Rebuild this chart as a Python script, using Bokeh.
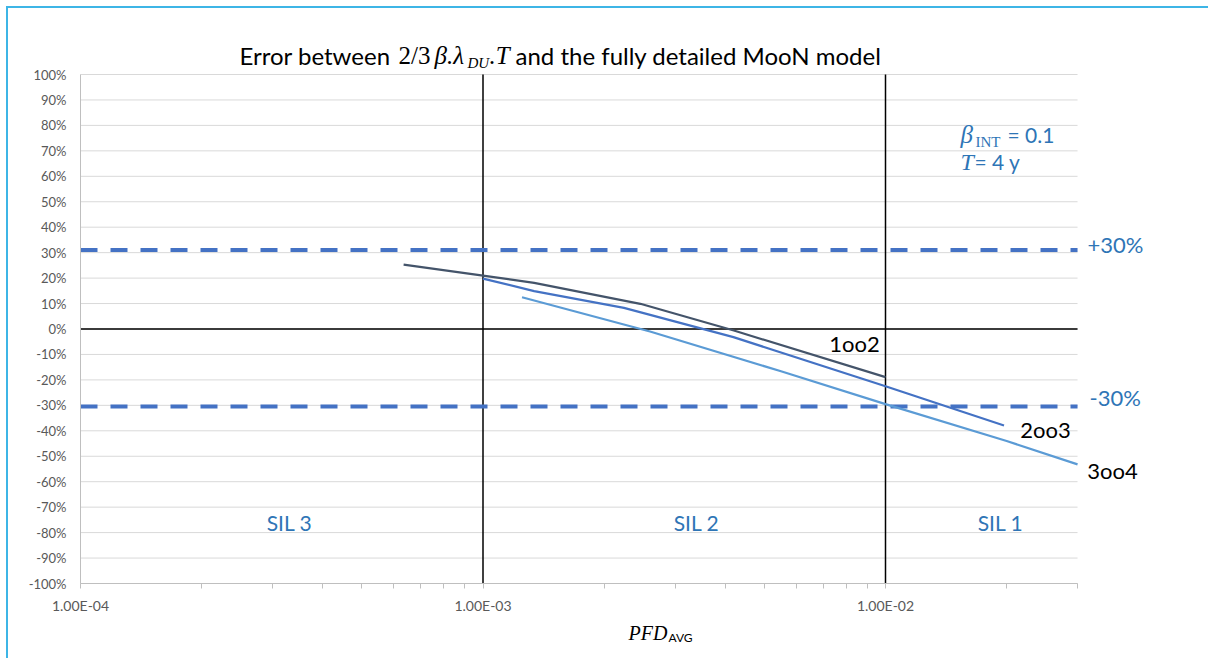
import math
from bokeh.plotting import figure
from bokeh.models import FixedTicker, Label, PrintfTickFormatter
from bokeh.embed import file_html
from bokeh.resources import INLINE

# ---- data ----
pfd_1oo2 = [6.35e-4, 1.0e-3, 1.34e-3, 2.46e-3, 4.2e-3, 1.0e-2]
err_1oo2 = [25.3, 21.0, 18.1, 9.9, -0.6, -18.9]

pfd_2oo3 = [1.0e-3, 1.34e-3, 2.24e-3, 4.19e-3, 1.0e-2, 1.97e-2]
err_2oo3 = [19.8, 14.9, 8.3, -3.2, -22.5, -37.9]

pfd_3oo4 = [1.25e-3, 2.6e-3, 5.5e-3, 1.0e-2, 2.0e-2, 3.0e-2]
err_3oo4 = [12.5, -1.0, -16.6, -29.5, -44.0, -53.2]

limit_levels = [31.0, -30.5]
limit_labels = ["+30%", "-30%"]
sil_bounds = [1e-3, 1e-2]
sil_labels = ["SIL 3", "SIL 2", "SIL 1"]
series_names = ["1oo2", "2oo3", "3oo4"]

axis_x = (1e-4, 3e-2)
axis_y = (-100, 100)
y_ticks = list(range(-100, 101, 10))
x_ticks = [1e-4, 1e-3, 1e-2]
x_tick_labels = ["1.00E-04", "1.00E-03", "1.00E-02"]
x_minor_ticks = [k * 1e-4 for k in range(2, 10)] + [k * 1e-3 for k in range(2, 10)] + [2e-2, 3e-2]

# ---- styling / layout ----
BLUE_TXT = "#2E75B6"
C_1OO2 = "#44546A"
C_2OO3 = "#4472C4"
C_3OO4 = "#5B9BD5"
GRID = "#D9D9D9"
AXIS = "#BFBFBF"
SANS = "Lato"
SERIF = "Liberation Serif"

OFF = 8            # page offset of canvas (margin 6 + border 2)
W, H = 1202, 652   # canvas size
PX_LEFT, PX_RIGHT_DEC = 80, 885     # page x of 1e-4 and 1e-2
PY_TOP, PY_BOT = 74, 583            # page y of +100% and -100%

dec = (PX_RIGHT_DEC - PX_LEFT) / 2.0
l0 = math.log10(axis_x[0])
x_start = 10 ** (l0 - (PX_LEFT - OFF) / dec)
x_end = 10 ** (l0 + (OFF + W - PX_LEFT) / dec)
ppu = (PY_BOT - PY_TOP) / (axis_y[1] - axis_y[0])
y_end = axis_y[1] + (PY_TOP - OFF) / ppu
y_start = axis_y[0] - (OFF + H - PY_BOT) / ppu

p = figure(width=W, height=H, x_axis_type="log",
           x_range=(x_start, x_end), y_range=(y_start, y_end),
           output_backend="svg", toolbar_location=None,
           min_border=0, min_border_left=0, min_border_right=0,
           min_border_top=0, min_border_bottom=0)
p.title.visible = False
p.styles = {"margin-left": "6px", "margin-top": "6px",
            "border-top": "2px solid #3DB5E6", "border-left": "2px solid #3DB5E6"}
p.outline_line_color = None
p.background_fill_color = "white"
p.border_fill_color = "white"
p.xgrid.visible = False
p.ygrid.visible = False

# gridlines (horizontal, within the axis box)
gx0 = [axis_x[0]] * len(y_ticks)
gx1 = [axis_x[1]] * len(y_ticks)
p.segment(x0=gx0, x1=gx1, y0=y_ticks, y1=y_ticks, line_color=GRID, line_width=1)

# axes fixed on the axis box
xa = p.xaxis[0]
xa.fixed_location = axis_y[0]
xa.bounds = axis_x
xa.ticker = FixedTicker(ticks=x_ticks, minor_ticks=x_minor_ticks)
xa.major_label_overrides = dict(zip(x_ticks, x_tick_labels))
xa.axis_line_color = AXIS
xa.major_tick_line_color = AXIS
xa.minor_tick_line_color = AXIS
xa.major_tick_in = 0
xa.major_tick_out = 5
xa.minor_tick_in = 0
xa.minor_tick_out = 5
xa.major_label_standoff = 8
xa.major_label_text_font = SANS
xa.major_label_text_font_size = "14px"
xa.major_label_text_color = "#595959"

ya = p.yaxis[0]
ya.fixed_location = axis_x[0]
ya.bounds = axis_y
ya.ticker = FixedTicker(ticks=y_ticks)
ya.formatter = PrintfTickFormatter(format="%d%%")
ya.axis_line_color = AXIS
ya.major_tick_line_color = None
ya.minor_tick_line_color = None
ya.major_tick_out = 0
ya.major_tick_in = 0
ya.major_label_standoff = 14
ya.major_label_text_font = SANS
ya.major_label_text_font_size = "13px"
ya.major_label_text_color = "#595959"

# black reference lines
p.line(x=list(axis_x), y=[0, 0], line_color="black", line_width=1.5)
p.segment(x0=sil_bounds, x1=sil_bounds, y0=[axis_y[0]] * 2, y1=[axis_y[1]] * 2,
          line_color="black", line_width=1.5)

# dashed limits
for lvl in limit_levels:
    p.line(x=list(axis_x), y=[lvl, lvl], line_color=C_2OO3, line_width=4, line_dash="17 13")

# series
p.line(pfd_1oo2, err_1oo2, line_color=C_1OO2, line_width=2.2)
p.line(pfd_2oo3, err_2oo3, line_color=C_2OO3, line_width=2.2)
p.line(pfd_3oo4, err_3oo4, line_color=C_3OO4, line_width=2.2)


def lab(text, px, py, size, color="black", font=SANS, style="normal", align="left"):
    """Text centred vertically on page y = py, starting (or centred) at page x = px."""
    p.add_layout(Label(x=px - OFF, y=OFF + H - py, x_units="screen", y_units="screen",
                       text=text, text_font=font, text_font_size=f"{size}px",
                       text_font_style=style, text_color=color,
                       text_align=align, text_baseline="middle"))


# title (pieces)
lab("Error between", 239, 55, 24)
lab("2/3", 398, 55, 25, font=SERIF)
lab("β.λ", 434, 55, 25, font=SERIF, style="italic")
lab("DU", 467, 62, 15, font=SERIF, style="italic")
lab(".T", 489, 55, 25, font=SERIF, style="italic")
lab("and the fully detailed MooN  model", 515, 55, 24)

# limit labels
lab(limit_labels[0], 1087, 244, 22, color=BLUE_TXT)
lab(limit_labels[1], 1089, 397, 22, color=BLUE_TXT)

# parameter box
lab("β", 960, 134, 25, color=BLUE_TXT, font=SERIF, style="italic")
lab("INT", 975, 141, 15, color=BLUE_TXT, font=SERIF)
lab("= 0.1", 1007, 134, 21, color=BLUE_TXT)
lab("T", 960, 161, 24, color=BLUE_TXT, font=SERIF, style="italic")
lab("= 4 y", 974, 161, 21, color=BLUE_TXT)

# SIL labels
lab(sil_labels[0], 289, 522, 21, color=BLUE_TXT, align="center")
lab(sil_labels[1], 696, 522, 21, color=BLUE_TXT, align="center")
lab(sil_labels[2], 1000, 522, 21, color=BLUE_TXT, align="center")

# series labels
lab(series_names[0], 854, 343, 22, align="center")
lab(series_names[1], 1045, 429, 22, align="center")
lab(series_names[2], 1112, 470, 22, align="center")

# x axis title
lab("PFD", 628, 632, 20, font=SERIF, style="italic")
lab("AVG", 668, 637, 12)

open("out.html", "w").write(file_html(p, INLINE))
